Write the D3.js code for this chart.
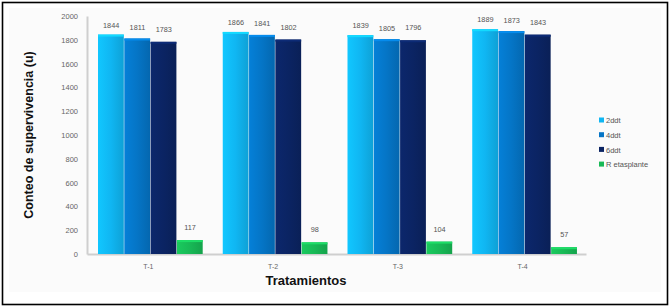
<!DOCTYPE html>
<html><head><meta charset="utf-8">
<script src="https://cdnjs.cloudflare.com/ajax/libs/d3/7.8.5/d3.min.js"></script>
<style>body{margin:0;background:#fff}svg{display:block}</style>
</head><body><svg id="c" width="671" height="308"></svg>
<script>
const categories = ["T-1","T-2","T-3","T-4"];
const seriesNames = ["2ddt","4ddt","6ddt","R etasplante"];
const s2ddt = [1844,1866,1839,1889];
const s4ddt = [1811,1841,1805,1873];
const s6ddt = [1783,1802,1796,1843];
const sRet = [117,98,104,57];
const yTicks = [0,200,400,600,800,1000,1200,1400,1600,1800,2000];
const colors = ["#10b6f2","#0575c6","#0b2463","#18b956"];
const series = [s2ddt,s4ddt,s6ddt,sRet];

const svg = d3.select("#c");
svg.append("rect").attr("x",2.5).attr("y",2.5).attr("width",665).attr("height",302)
  .attr("fill","#fff").attr("stroke","#000").attr("stroke-width",1.6);
svg.append("rect").attr("x",9).attr("y",8).attr("width",652).attr("height",284).attr("fill","#fbfbfb");

const x0 = d3.scaleBand().domain(categories).range([87,586]).paddingInner(0).paddingOuter(0);
const y = d3.scaleLinear().domain([0,2000]).range([254,16]);
const bw = 26.3;

const defs = svg.append("defs");
colors.forEach((c,i)=>{
  const g = defs.append("linearGradient").attr("id","g"+i).attr("x1",0).attr("x2",1).attr("y1",0).attr("y2",0);
  g.append("stop").attr("offset","0%").attr("stop-color",d3.color(c).brighter(0.25));
  g.append("stop").attr("offset","50%").attr("stop-color",c);
  g.append("stop").attr("offset","100%").attr("stop-color",d3.color(c).darker(0.35));
});

// axes
const yAxis = d3.axisLeft(y).tickValues(yTicks).tickFormat(d3.format("d")).tickSize(0).tickPadding(9);
const ya = svg.append("g").attr("transform","translate(87,0)").call(yAxis);
ya.select(".domain").attr("stroke","#cfcfcf").attr("stroke-width",2);
ya.selectAll("text").attr("font-family","Liberation Sans, Arial").attr("font-size",7.5).attr("fill","#666");

const xAxis = d3.axisBottom(x0).tickSize(0).tickPadding(10);
const xa = svg.append("g").attr("transform","translate(0,254)").call(xAxis);
xa.select(".domain").attr("stroke","#cfcfcf").attr("stroke-width",2);
xa.selectAll("text").attr("font-family","Liberation Sans, Arial").attr("font-size",7).attr("fill","#666")
  .attr("dx",-1);

// bars
const groups = svg.append("g").selectAll("g").data(categories).join("g")
  .attr("transform",c=>`translate(${x0(c)+11},0)`);
series.forEach((s,si)=>{
  groups.append("rect")
    .attr("x",si*bw).attr("width",bw-0.5)
    .attr("y",(c,ci)=>y(s[ci])).attr("height",(c,ci)=>254-y(s[ci]))
    .attr("fill",`url(#g${si})`);
  groups.append("rect")
    .attr("x",si*bw).attr("width",bw-0.5)
    .attr("y",(c,ci)=>y(s[ci])).attr("height",2)
    .attr("fill",d3.color(colors[si]).brighter(0.5));
  groups.append("text")
    .attr("x",si*bw+bw/2).attr("y",(c,ci)=>y(s[ci])-(si===3?10:7+si*1.5))
    .attr("text-anchor","middle").attr("font-family","Liberation Sans, Arial").attr("font-size",7.3)
    .attr("fill","#555").text((c,ci)=>s[ci]);
});

// titles
svg.append("text").attr("transform","translate(33,135) rotate(-90)").attr("text-anchor","middle")
  .attr("font-family","Liberation Sans, Arial").attr("font-weight","bold").attr("font-size",12.5)
  .attr("fill","#111").text("Conteo de supervivencia (u)");
svg.append("text").attr("x",306).attr("y",285).attr("text-anchor","middle")
  .attr("font-family","Liberation Sans, Arial").attr("font-weight","bold").attr("font-size",13)
  .attr("fill","#111").text("Tratamientos");

// legend
const lg = svg.append("g").attr("transform","translate(599,121)");
seriesNames.forEach((n,i)=>{
  lg.append("rect").attr("x",0).attr("y",i*14.7-3.5).attr("width",5).attr("height",5).attr("fill",colors[i]);
  lg.append("text").attr("x",7).attr("y",i*14.7+2.2).attr("font-family","Liberation Sans, Arial")
    .attr("font-size",7.5).attr("fill","#555").text(n);
});
</script></body></html>
